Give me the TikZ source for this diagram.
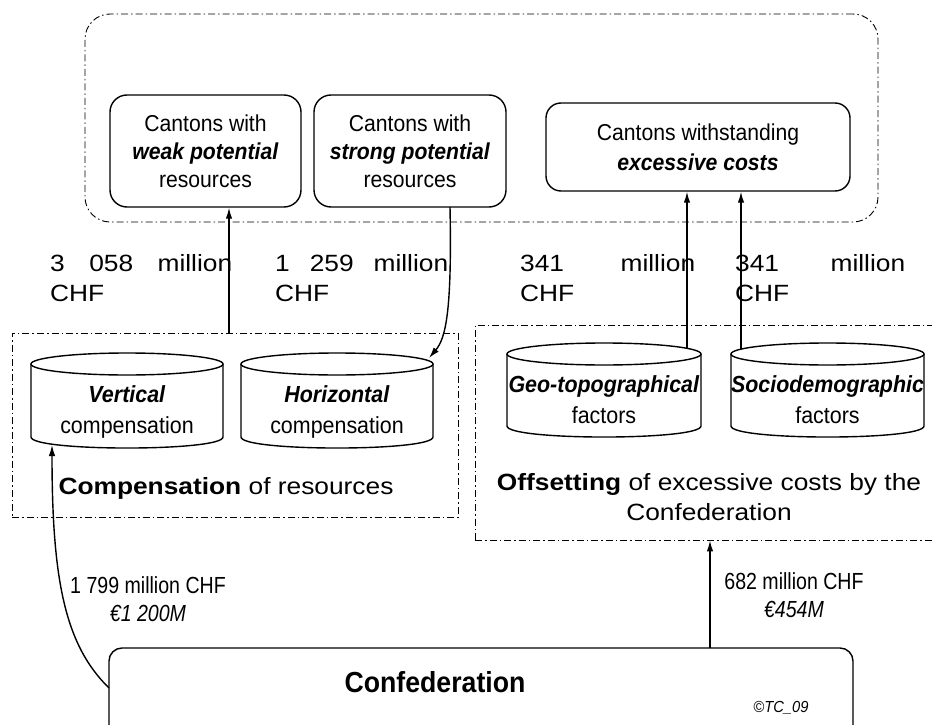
\documentclass[tikz,border=0pt]{standalone}
\usepackage{fontspec}
\setmainfont{Liberation Sans}[FakeStretch=1.12]
\newfontfamily\narrowfont{Liberation Sans}[FakeStretch=0.92]
\newfontfamily\narrowerfont{Liberation Sans}[FakeStretch=0.84]
\usetikzlibrary{arrows.meta}
\tikzset{
  dashdot/.style={draw, line width=0.9pt, dash pattern=on 7pt off 3pt on 1.5pt off 3pt},
  canton/.style={draw, line width=1.4pt, align=center, inner sep=0pt,
    font=\narrowfont\fontsize{23}{28}\selectfont},
  flow/.style={line width=1.4pt, -{Latex[length=11pt,width=6.5pt]}},
  cyl/.style={line width=1.4pt},
  cyltext/.style={align=center, inner sep=0pt, font=\narrowfont\fontsize{23.3}{31}\selectfont},
  amount/.style={anchor=north west, inner sep=0pt, align=left,
    font=\fontsize{23.5}{30}\selectfont},
  small/.style={align=center, inner sep=0pt, font=\narrowerfont\fontsize{23.3}{28}\selectfont},
  caption/.style={align=center, inner sep=0pt, font=\fontsize{23.5}{30}\selectfont},
}
\newcommand{\bi}[1]{\textbf{\textit{#1}}}
\begin{document}
\begin{tikzpicture}[x=1pt,y=-1pt]
\clip (0,0) rectangle (932,725);
\fill[white] (0,0) rectangle (932,725);

% outer group of cantons
\node[dashdot, rounded corners=25pt, minimum width=793pt, minimum height=208pt] (cantons) at (481.5,118) {};
\node[canton, rounded corners=17pt, minimum width=191pt, minimum height=112pt] (weak) at (205.5,151)
  {Cantons with\\\bi{weak potential}\\resources};
\node[canton, rounded corners=17pt, minimum width=192pt, minimum height=112pt] (strong) at (410,151)
  {Cantons with\\\bi{strong potential}\\resources};
\node[canton, rounded corners=15pt, minimum width=304pt, minimum height=88pt,
  font=\narrowfont\fontsize{23}{30}\selectfont] (excess) at (698,147)
  {Cantons withstanding\\\bi{excessive costs}};

% amounts
\node[amount] (a1) at (50,254) {\makebox[182pt][s]{3 058 million}\\CHF};
\node[amount] (a2) at (275,254) {\makebox[173pt][s]{1 259 million}\\CHF};
\node[amount] (a3) at (520,254) {\makebox[175pt][s]{341 million}\\CHF};
\node[amount] (a4) at (735,254) {\makebox[170pt][s]{341 million}\\CHF};

% compensation of resources
\node[dashdot, minimum width=446pt, minimum height=184pt] (comp) at (235,425) {};
\draw[cyl, fill=white] (31,364) -- (31,437) .. controls (31,451.7) and (223,451.7) .. (223,437) -- (223,364);
\draw[cyl] (127,364) ellipse [x radius=96, y radius=11];
\node[cyltext] (vert) at (127,412) {\bi{Vertical}\\compensation};
\draw[cyl, fill=white] (241,364) -- (241,437) .. controls (241,451.7) and (433,451.7) .. (433,437) -- (433,364);
\draw[cyl] (337,364) ellipse [x radius=96, y radius=11];
\node[cyltext] (horiz) at (337,412) {\bi{Horizontal}\\compensation};
\node[caption] (compcap) at (226,488) {\textbf{Compensation} of resources};

% offsetting of excessive costs
\node[dashdot, minimum width=470pt, minimum height=215pt] (offset) at (710,432.5) {};
\draw[cyl, fill=white] (507,354) -- (507,426) .. controls (507,440.7) and (701,440.7) .. (701,426) -- (701,354);
\draw[cyl] (604,354) ellipse [x radius=97, y radius=11];
\node[cyltext] (geo) at (604,400) {\bi{Geo-topographical}\\factors};
\draw[cyl, fill=white] (731,354) -- (731,426) .. controls (731,440.7) and (924,440.7) .. (924,426) -- (924,354);
\draw[cyl] (827.5,354) ellipse [x radius=96.5, y radius=11];
\node[cyltext] (socio) at (827.5,400) {\bi{Sociodemographic}\\factors};
\node[caption] (offcap) at (709,497) {\textbf{Offsetting} of excessive costs by the\\Confederation};

% confederation
\node[draw, line width=1.4pt, rounded corners=13pt, minimum width=744pt, minimum height=112pt] (conf) at (481,704) {};
\node[inner sep=0pt, font=\narrowfont\fontsize{29}{32}\selectfont\bfseries] (conftext) at (435,682) {Confederation};
\node[inner sep=0pt, font=\narrowfont\fontsize{16}{18}\selectfont\itshape] (copy) at (781,708) {©TC\_09};

\node[small] (l1) at (148,599) {1 799 million CHF\\\textit{€1 200M}};
\node[small] (l2) at (794,595) {682 million CHF\\\textit{€454M}};

% connector end points
\coordinate (wk) at (229,333);
\coordinate (st) at (450,207);
\coordinate (hz) at (429,358);
\coordinate (gt) at (687,348);
\coordinate (sc) at (741,349);
\coordinate (c0) at (109,688);
\coordinate (vb) at (52,445);
\coordinate (cr) at (710,648);

% connectors
\draw[flow] (wk) -- (wk |- weak.south);
\draw[flow] (st) .. controls (452,310) and (446,338) .. (hz);
\draw[flow] (gt) -- (gt |- excess.south);
\draw[flow] (sc) -- (sc |- excess.south);
\draw[flow] (c0) .. controls (65,645) and (52,580) .. (vb);
\draw[flow] (cr) -- (cr |- offset.south);
\end{tikzpicture}
\end{document}
